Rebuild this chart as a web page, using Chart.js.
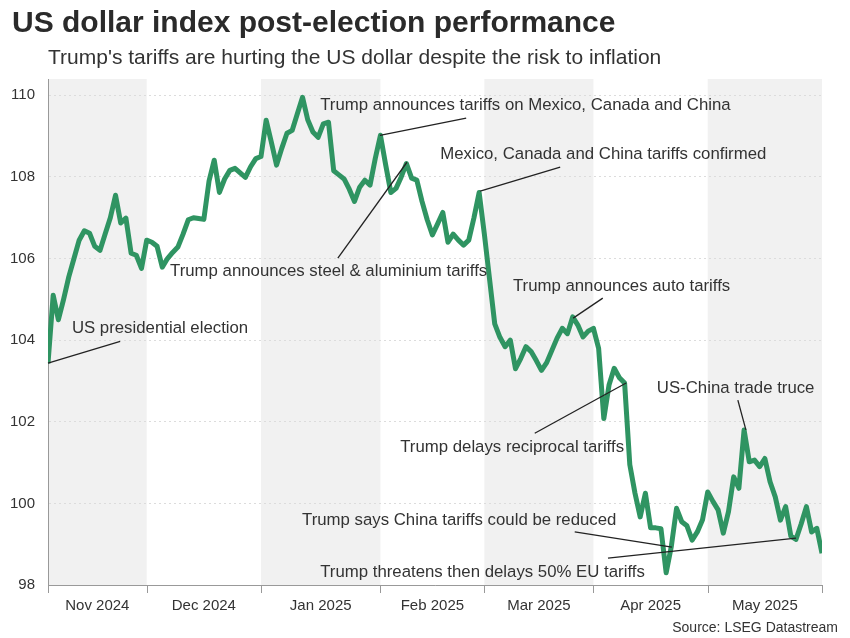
<!DOCTYPE html>
<html lang="en">
<head>
<meta charset="UTF-8">
<title>US dollar index post-election performance</title>
<script src="https://cdn.jsdelivr.net/npm/chart.js"></script>
<style>
    body { margin: 0; background: #fff; font-family: "Liberation Sans", Arial, sans-serif; }
    .wrap { position: relative; width: 850px; height: 638px; }
    .wrap canvas { position: absolute; left: 0; top: 0; }
    h1 { position: absolute; left: 12px; top: 5px; margin: 0; font-size: 30px; line-height: 34px; font-weight: bold; color: #2a2a2a; }
    .sub { position: absolute; left: 48px; top: 45px; font-size: 21px; line-height: 24px; color: #333; }
    .source { position: absolute; right: 12px; top: 619px; font-size: 14px; line-height: 16px; color: #333; }
</style>
</head>
<body>
<div class="wrap">
    <canvas id="dxyChart" width="850" height="638"></canvas>
    <h1>US dollar index post-election performance</h1>
    <div class="sub">Trump's tariffs are hurting the US dollar despite the risk to inflation</div>
    <div class="source">Source: LSEG Datastream</div>
</div>
<script>
    // trading days from election day to 2 June 2025
    const startDay = Date.UTC(2024, 10, 5);
    const endDay = Date.UTC(2025, 5, 2);
    const monthLabels = ['Nov 2024', 'Dec 2024', 'Jan 2025', 'Feb 2025', 'Mar 2025', 'Apr 2025', 'May 2025'];
    const yTicks = [98, 100, 102, 104, 106, 108, 110];

    // DXY daily close
    const dxy = [
        103.43, 105.1, 104.5, 105.0, 105.55, 106.0, 106.45, 106.68, 106.62, 106.3,
        106.2, 106.6, 107.0, 107.55, 106.87, 106.99, 106.13, 106.08, 105.76,
        106.45, 106.4, 106.3, 105.79, 106.0, 106.15, 106.28, 106.6, 106.95, 107.0,
        106.98, 106.96, 107.9, 108.41, 107.62, 107.95, 108.16, 108.21, 108.1, 107.99,
        108.25, 108.45,
        108.5, 109.39, 108.85, 108.29, 108.7, 109.07, 109.14, 109.55, 109.95, 109.4,
        109.1, 108.97, 109.3, 109.34, 108.15, 108.05, 107.95, 107.7, 107.4, 107.75,
        107.92, 107.8, 108.45,
        109.02, 108.3, 107.62, 107.72, 108.0, 108.33, 107.97, 107.92, 107.4, 106.95,
        106.58, 106.85, 107.13, 106.4, 106.6, 106.45, 106.33, 106.45, 107.0, 107.62,
        106.6, 105.5, 104.4, 104.07, 103.84, 104.0, 103.3, 103.55, 103.84, 103.72,
        103.5, 103.26, 103.45, 103.75, 104.05, 104.29, 104.16, 104.57, 104.37, 104.08,
        104.22,
        104.29, 103.8, 102.08, 102.9, 103.31, 103.08, 102.95, 100.95, 100.25, 99.67,
        100.25, 99.4, 99.4, 99.38, 98.3, 98.95, 99.88, 99.55, 99.45, 99.1,
        99.3, 99.6,
        100.28, 100.05, 99.84, 99.27, 99.8, 100.65, 100.37, 101.8, 101.02, 101.06,
        100.9, 101.1, 100.53, 100.16, 99.59, 99.92, 99.2, 99.12, 99.5, 99.92,
        99.3, 99.39,
        98.78
    ];

    // annotations: text, text anchor [day index, value], leader line from / to
    const annoText = [
        'US presidential election',
        'Trump announces steel & aluminium tariffs',
        'Trump announces tariffs on Mexico, Canada and China',
        'Mexico, Canada and China tariffs confirmed',
        'Trump announces auto tariffs',
        'Trump delays reciprocal tariffs',
        'US-China trade truce',
        'Trump says China tariffs could be reduced',
        'Trump threatens then delays 50% EU tariffs'
    ];
    const annoAt = [[4.6, 104.29], [23.5, 105.69], [52.4, 109.75], [75.5, 108.55], [89.5, 105.32],
                    [67.8, 101.38], [117.2, 102.82], [48.9, 99.59], [52.4, 98.32]];
    const annoFrom = [[0, 103.44], [55.8, 106.01], [63.9, 109.02], [83.2, 107.65], [101.1, 104.54],
                      [93.7, 101.72], [132.8, 102.53], [101.4, 99.3], [107.8, 98.66]];
    const annoTo = [[13.9, 103.97], [69.1, 108.36], [80.5, 109.44], [98.6, 108.24], [106.8, 105.03],
                    [111.3, 102.95], [134.35, 101.8], [120.1, 98.93], [144, 99.15]];

    const days = [];
    for (let t = startDay; t <= endDay; t += 86400000) {
        const wd = new Date(t).getUTCDay();
        if (wd !== 0 && wd !== 6) days.push(new Date(t));
    }
    const lastIdx = days.length - 1;
    const edges = [0];
    for (let i = 1; i < days.length; i++) {
        if (days[i].getUTCMonth() !== days[i - 1].getUTCMonth()) edges.push(i);
    }
    edges.length = monthLabels.length;
    edges.push(lastIdx);
    const monthMid = monthLabels.map((m, i) => (edges[i] + edges[i + 1]) / 2);

    const FONT = '"Liberation Sans", Arial, sans-serif';

    const monthBands = {
        id: 'monthBands',
        beforeDraw(chart) {
            const { ctx, chartArea, scales } = chart;
            ctx.save();
            ctx.fillStyle = '#f1f1f1';
            for (let i = 0; i < monthLabels.length; i += 2) {
                const x1 = scales.x.getPixelForValue(edges[i]);
                const x2 = scales.x.getPixelForValue(edges[i + 1]);
                ctx.fillRect(x1, chartArea.top, x2 - x1, chartArea.bottom - chartArea.top);
            }
            ctx.restore();
        },
        afterDraw(chart) {
            const { ctx, chartArea, scales } = chart;
            ctx.save();
            ctx.strokeStyle = '#999';
            ctx.lineWidth = 1;
            edges.forEach(e => {
                const x = Math.round(scales.x.getPixelForValue(e)) + 0.5;
                ctx.beginPath();
                ctx.moveTo(x, chartArea.bottom);
                ctx.lineTo(x, chartArea.bottom + 8);
                ctx.stroke();
            });
            ctx.restore();
        }
    };

    const notes = {
        id: 'notes',
        afterDatasetsDraw(chart) {
            const { ctx, scales } = chart;
            const px = p => [scales.x.getPixelForValue(p[0]), scales.y.getPixelForValue(p[1])];
            ctx.save();
            ctx.strokeStyle = '#222';
            ctx.lineWidth = 1.3;
            annoFrom.forEach((f, i) => {
                const a = px(f), b = px(annoTo[i]);
                ctx.beginPath();
                ctx.moveTo(a[0], a[1]);
                ctx.lineTo(b[0], b[1]);
                ctx.stroke();
            });
            ctx.fillStyle = '#333';
            ctx.font = '16.8px ' + FONT;
            ctx.textAlign = 'left';
            ctx.textBaseline = 'middle';
            annoText.forEach((t, i) => {
                const p = px(annoAt[i]);
                ctx.fillText(t, p[0], p[1]);
            });
            ctx.restore();
        }
    };

    new Chart(document.getElementById('dxyChart'), {
        type: 'line',
        data: {
            datasets: [{
                data: dxy.map((v, i) => ({ x: i, y: v })),
                borderColor: '#2f9462',
                borderWidth: 5,
                borderJoinStyle: 'round',
                pointRadius: 0,
                tension: 0
            }]
        },
        options: {
            responsive: false,
            animation: false,
            layout: { padding: { left: 0, right: 28, top: 79, bottom: 0 } },
            plugins: { legend: { display: false }, tooltip: { enabled: false } },
            scales: {
                x: {
                    type: 'linear',
                    min: 0,
                    max: lastIdx,
                    afterBuildTicks: s => { s.ticks = monthMid.map(v => ({ value: v })); },
                    afterFit: s => { s.height = 53; },
                    grid: { display: false },
                    border: { display: true, color: '#999' },
                    ticks: {
                        autoSkip: false,
                        maxRotation: 0,
                        padding: 4,
                        color: '#333',
                        font: { family: FONT, size: 15 },
                        callback: (v, i) => monthLabels[i]
                    }
                },
                y: {
                    min: 98,
                    max: 110.4,
                    afterBuildTicks: s => { s.ticks = yTicks.map(v => ({ value: v })); },
                    afterFit: s => { s.width = 48; },
                    grid: { color: '#dcdcdc', drawTicks: false },
                    border: { display: true, color: '#999', dash: [2, 3] },
                    ticks: {
                        padding: 13,
                        color: '#333',
                        font: { family: FONT, size: 15 }
                    }
                }
            }
        },
        plugins: [monthBands, notes]
    });
</script>
</body>
</html>
